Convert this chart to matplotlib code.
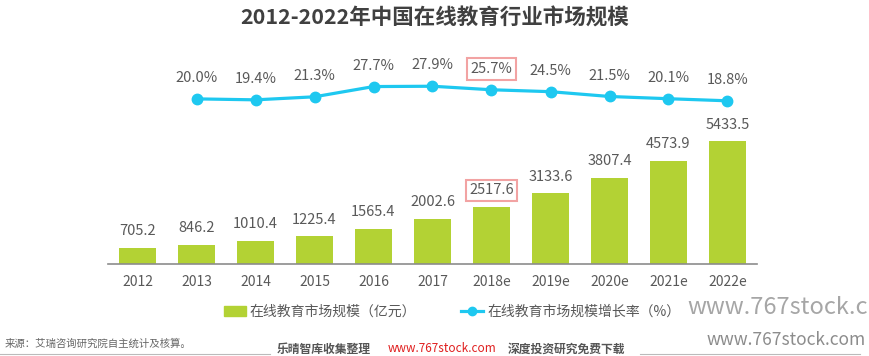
import matplotlib
matplotlib.use("Agg")
import matplotlib.pyplot as plt
from matplotlib.patches import Patch
from matplotlib.lines import Line2D

plt.rcParams['font.family'] = ['Noto Sans CJK SC', 'DejaVu Sans']

years = ["2012", "2013", "2014", "2015", "2016", "2017", "2018e",
         "2019e", "2020e", "2021e", "2022e"]
market_size = [705.2, 846.2, 1010.4, 1225.4, 1565.4, 2002.6, 2517.6,
               3133.6, 3807.4, 4573.9, 5433.5]
growth_rate = [20.0, 19.4, 21.3, 27.7, 27.9, 25.7, 24.5, 21.5, 20.1, 18.8]
growth_years = years[1:]
highlight = "2018e"

bar_color = "#b3d234"
line_color = "#1ec8f0"
text_color = "#595959"
box_color = "#f2a3a3"

W, H = 870, 356
fig = plt.figure(figsize=(W / 100, H / 100), dpi=100)
ax = fig.add_axes([108 / W, (H - 264) / H, 649 / W, 224 / H])

x = list(range(len(years)))
ax.bar(x, market_size, width=0.63, color=bar_color, zorder=2)
ax.set_xlim(-0.5, 10.5)
ax.set_ylim(0, 9912)
ax.set_xticks(x)
ax.set_xticklabels(years, fontsize=10, color=text_color)
ax.tick_params(axis="x", length=0, pad=8)
ax.set_yticks([])
for s in ["top", "right", "left"]:
    ax.spines[s].set_visible(False)
ax.spines["bottom"].set_color("#8c8c8c")
ax.spines["bottom"].set_linewidth(1.2)

for i, v in enumerate(market_size):
    kw = {}
    if years[i] == highlight:
        kw["bbox"] = dict(boxstyle="square,pad=0.25", fc="none", ec=box_color, lw=1.5)
    ax.annotate(f"{v:.1f}", (i, v), xytext=(0, 12), textcoords="offset points",
                ha="center", va="center", fontsize=10.5, color=text_color, **kw)

ax2 = ax.twinx()
gx = [years.index(y) for y in growth_years]
ax2.plot(gx, growth_rate, color=line_color, lw=2.3, marker="o", markersize=7.5, zorder=3)
ax2.set_ylim(-83.2, 56.8)
ax2.set_yticks([])
for s in ["top", "right", "left", "bottom"]:
    ax2.spines[s].set_visible(False)

for xi, v, y in zip(gx, growth_rate, growth_years):
    kw = {}
    if y == highlight:
        kw["bbox"] = dict(boxstyle="square,pad=0.25", fc="none", ec=box_color, lw=1.5)
    ax2.annotate(f"{v:.1f}%", (xi, v), xytext=(0, 15), textcoords="offset points",
                 ha="center", va="center", fontsize=10.5, color=text_color, **kw)

fig.text(435 / W, 1 - 18 / H, "2012-2022年中国在线教育行业市场规模", ha="center",
         va="center", fontsize=15.5, fontweight="bold", color="#404040")

handles = [Patch(color=bar_color),
           Line2D([], [], color=line_color, lw=2.3, marker="o", markersize=6)]
fig.legend(handles, ["在线教育市场规模（亿元）", "在线教育市场规模增长率（%）"],
           loc="center", bbox_to_anchor=(452 / W, 1 - 312 / H), ncol=2,
           frameon=False, fontsize=10, columnspacing=3.2, handlelength=1.6,
           handletextpad=0.3, labelcolor=text_color)

fig.text(5 / W, 1 - 344 / H, "来源：艾瑞咨询研究院自主统计及核算。", ha="left",
         va="center", fontsize=7.5, color="#666666")

# watermarks
fig.text(868 / W, 1 - 308 / H, "www.767stock.c", ha="right", va="center",
         fontsize=17, color="#a6a6a6")
fig.text(866 / W, 1 - 340 / H, "www.767stock.com", ha="right", va="center",
         fontsize=12.5, color="#8c8c8c")
fig.text(277 / W, 1 - 349 / H, "乐晴智库收集整理", ha="left", va="center",
         fontsize=8.5, color="#555555", fontweight="bold")
fig.text(388 / W, 1 - 349 / H, "www.767stock.com", ha="left", va="center",
         fontsize=8.5, color="#e02020")
fig.text(508 / W, 1 - 349 / H, "深度投资研究免费下载", ha="left", va="center",
         fontsize=8.5, color="#555555", fontweight="bold")
fig.add_artist(Line2D([0, 270 / W], [1 - 354 / H] * 2, color="#bbbbbb", lw=0.8))
fig.add_artist(Line2D([640 / W, 860 / W], [1 - 354 / H] * 2, color="#bbbbbb", lw=0.8))

fig.savefig("out.png", dpi=100)
